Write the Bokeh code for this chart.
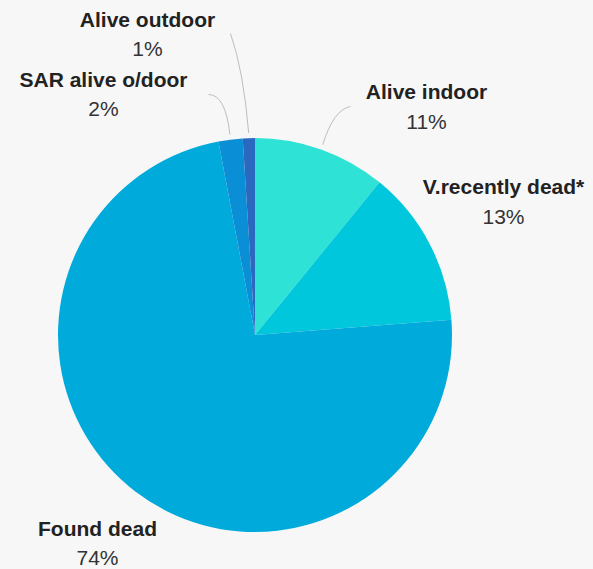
import numpy as np
from bokeh.plotting import figure
from bokeh.models import Range1d, ColumnDataSource
from bokeh.core.properties import value
from bokeh.embed import file_html
from bokeh.resources import INLINE

# ---- data ----
categories = ["Alive indoor", "V.recently dead*", "Found dead", "SAR alive o/door", "Alive outdoor"]
values = [11, 13, 74, 2, 1]
pct_labels = ["11%", "13%", "74%", "2%", "1%"]
colors = ["#2ee3d5", "#00c7dc", "#00abdc", "#0a8fd6", "#2a69bf"]

# ---- layout (image pixel coords, y down) ----
W, H = 593, 569
CX, CY, R = 254.5, 334.5, 197.0
label_pos = {  # (x, y of bold name, y of pct)
    "Alive indoor": (426, 91, 121),
    "V.recently dead*": (503, 186, 216),
    "Found dead": (97, 528, 557),
    "SAR alive o/door": (103, 79, 108),
    "Alive outdoor": (147, 19, 48),
}
connectors = {  # end point and control point of leader line
    "Alive indoor": (350, 106, 333, 109),
    "SAR alive o/door": (208, 94, 225, 94),
    "Alive outdoor": (230, 33, 243, 70),
}

def fy(y):
    return H - y

p = figure(width=W, height=H, output_backend="svg", toolbar_location=None,
           x_range=Range1d(0, W), y_range=Range1d(0, H), min_border=0)
p.axis.visible = False
p.grid.visible = False
p.outline_line_color = None
p.background_fill_color = "#f7f7f7"
p.border_fill_color = "#f7f7f7"

vals = np.array(values, dtype=float)
frac = vals / vals.sum()
cum_after = np.cumsum(frac)
cum_before = cum_after - frac
start = np.pi / 2 - cum_after * 2 * np.pi
end = np.pi / 2 - cum_before * 2 * np.pi
src = ColumnDataSource(dict(start=start, end=end, color=colors, cat=categories))
p.wedge(x=CX, y=fy(CY), radius=R, start_angle="start", end_angle="end",
        direction="anticlock", fill_color="color", line_color=None, source=src)

# leader lines
mid = (cum_before + cum_after) / 2 * 2 * np.pi
for i, c in enumerate(categories):
    if c in connectors:
        ex, ey, qx, qy = connectors[c]
        sx = CX + (R + 5) * np.sin(mid[i])
        sy = CY - (R + 5) * np.cos(mid[i])
        p.quadratic(x0=sx, y0=fy(sy), x1=ex, y1=fy(ey), cx=qx, cy=fy(qy),
                    line_color="#bdbdbd", line_width=1)

# labels
xs = [label_pos[c][0] for c in categories]
ny = [fy(label_pos[c][1]) for c in categories]
py = [fy(label_pos[c][2]) for c in categories]
p.text(x=xs, y=ny, text=categories, text_font=value("Liberation Sans"), text_font_style="bold",
       text_font_size="21px", text_color="#222222", text_align="center", text_baseline="middle")
p.text(x=xs, y=py, text=pct_labels, text_font=value("Liberation Sans"),
       text_font_size="21px", text_color="#333333", text_align="center", text_baseline="middle")

html = file_html(p, INLINE)
html = html.replace("<head>", "<head><style>body{background:#f7f7f7;}</style>", 1)
open("out.html", "w").write(html)
